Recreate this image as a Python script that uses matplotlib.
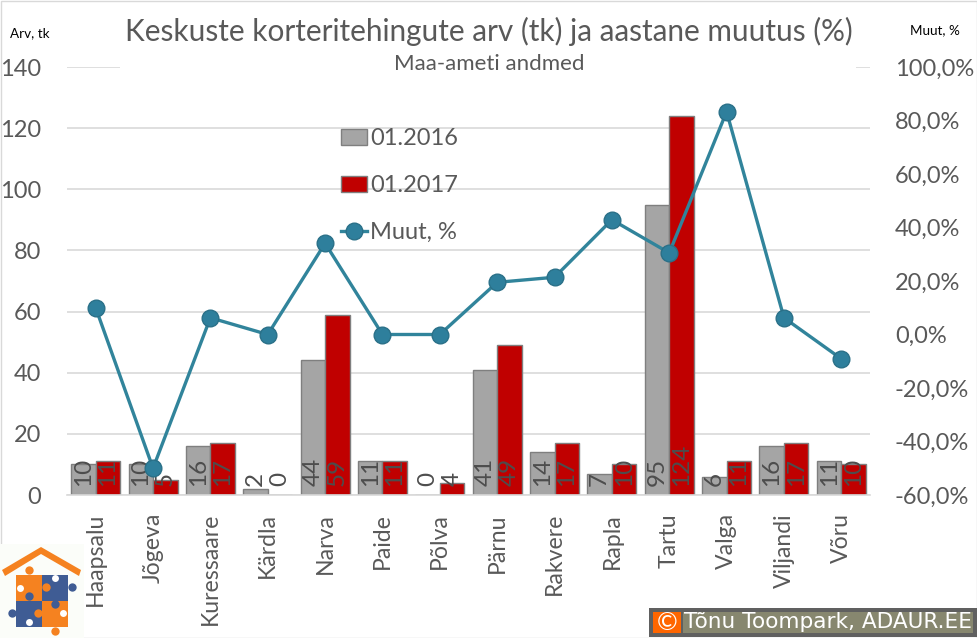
#!/usr/bin/env python3
"""Keskuste korteritehingute arv ja aastane muutus."""

import matplotlib
matplotlib.use("Agg")
import matplotlib.pyplot as plt
from matplotlib.patches import Polygon, Rectangle
import numpy as np

plt.rcParams["font.family"] = ["Lato", "DejaVu Sans"]

W, H = 977, 638

cities = ["Haapsalu", "Jõgeva", "Kuressaare", "Kärdla", "Narva", "Paide", "Põlva",
          "Pärnu", "Rakvere", "Rapla", "Tartu", "Valga", "Viljandi", "Võru"]
deals_2016 = [10, 10, 16, 2, 44, 11, 0, 41, 14, 7, 95, 6, 16, 11]
deals_2017 = [11, 5, 17, 0, 59, 11, 4, 49, 17, 10, 124, 11, 17, 10]
change_pct = [10.0, -50.0, 6.25, 0.0, 34.1, 0.0, 0.0, 19.5, 21.4, 42.9, 30.5, 83.3, 6.25, -9.1]
left_ticks = [0, 20, 40, 60, 80, 100, 120, 140]
right_ticks = [-60, -40, -20, 0, 20, 40, 60, 80, 100]

TEXT = "#595959"
GREY = "#a5a5a5"
RED = "#c00000"
TEAL = "#31849b"
EDGE = "#7f7f7f"


def fx(px):
    return px / W


def fy(px):
    return 1 - px / H


def box(x0, y0, x1, y1, color, zorder):
    fig.add_artist(Rectangle((fx(x0), fy(y1)), (x1 - x0) / W, (y1 - y0) / H, transform=fig.transFigure,
                             facecolor=color, edgecolor="none", zorder=zorder))


def dot(px, py, size, color):
    fig.add_artist(plt.Line2D([fx(px)], [fy(py)], marker="o", markersize=size, color=color,
                              markeredgewidth=0, zorder=9, transform=fig.transFigure))


fig = plt.figure(figsize=(W / 100, H / 100), dpi=100, facecolor="white")
ax = fig.add_axes([fx(67), fy(495), (870 - 67) / W, (495 - 67) / H])
x = np.arange(len(cities))
w = 0.427

ax.set_axisbelow(True)
ax.grid(True, axis="y", color="#d9d9d9", linewidth=1.2)
bars1 = ax.bar(x - w / 2, deals_2016, w, color=GREY, edgecolor=EDGE, linewidth=1, label="01.2016")
bars2 = ax.bar(x + w / 2, deals_2017, w, color=RED, edgecolor=EDGE, linewidth=1, label="01.2017")
ax.set_xlim(-0.5, len(cities) - 0.5)
ax.set_ylim(0, 140)
ax.set_yticks(left_ticks)
ax.set_xticks(x, cities, rotation=90)
ax.tick_params(axis="y", length=0, labelsize=17, labelcolor=TEXT, pad=18.5)
ax.tick_params(axis="x", length=0, labelsize=16.6, labelcolor=TEXT, pad=13)
for side in ["top", "left", "right"]:
    ax.spines[side].set_visible(False)
ax.spines["bottom"].set_color("#d9d9d9")
ax.spines["bottom"].set_linewidth(1.2)

# value labels all start at the same height just above the axis
for bars in (bars1, bars2):
    for bar in bars:
        ax.text(bar.get_x() + bar.get_width() / 2, 2.8, str(int(bar.get_height())), rotation=90,
                ha="center", va="bottom", fontsize=17.5, color="#4d4d4d", zorder=4)

ax2 = ax.twinx()
line, = ax2.plot(x, change_pct, "-o", color=TEAL, linewidth=2.4, markersize=12,
                 markerfacecolor="#2e7f9c", markeredgecolor="#2a7088", markeredgewidth=1,
                 label="Muut, %", zorder=5)
ax2.set_ylim(-60, 100)
ax2.set_yticks(right_ticks, [f"{t},0%" for t in right_ticks])
ax2.tick_params(axis="y", length=0, labelsize=17, labelcolor=TEXT, pad=18)
for side in ["top", "left", "right", "bottom"]:
    ax2.spines[side].set_visible(False)

# legend entries are stacked far apart, like a tall Excel legend
ax2.legend(handles=[bars1, bars2, line], loc="upper left", bbox_transform=fig.transFigure,
           bbox_to_anchor=(fx(341), fy(128)), frameon=False, fontsize=17, labelcolor=TEXT,
           labelspacing=1.1, handlelength=1.08, handleheight=0.65, handletextpad=0.15,
           borderpad=0, borderaxespad=0)

# subtitle block hides the top gridline behind the heading
box(120, 55, 856, 76, "white", 2)
fig.text(fx(488.5), fy(31), "Keskuste korteritehingute arv (tk) ja aastane muutus (%)", ha="center", va="center",
         fontsize=21.4, color=TEXT, zorder=6)
fig.text(fx(489), fy(64), "Maa-ameti andmed", ha="center", va="center", fontsize=16, color=TEXT, zorder=6)
fig.text(fx(29.5), fy(33), "Arv, tk", ha="center", va="center", fontsize=9.7, color="black")
fig.text(fx(935), fy(30), "Muut, %", ha="center", va="center", fontsize=9.7, color="black")

# chart border
fig.add_artist(Rectangle((fx(0.5), fy(637.5)), 976 / W, 637 / H, transform=fig.transFigure,
                         facecolor="none", edgecolor="#d9d9d9", linewidth=1))

# copyright box
box(649, 608, 977, 637, "#606060", 7)
box(653, 612, 681, 633, "#ff6600", 8)
box(683, 612, 973, 633, "#87876f", 8)
fig.text(fx(667), fy(622), "©", ha="center", va="center", fontsize=18, color="white", zorder=9)
fig.text(fx(828), fy(622), "Tõnu Toompark, ADAUR.EE", ha="center", va="center", fontsize=15.6,
         color="white", family=["DejaVu Sans"], zorder=9)

# logo: house with puzzle pieces
ORANGE = "#f58220"
BLUE = "#3f5c94"
box(0, 544, 84, 638, "#fbfdf9", 7)
fig.add_artist(Polygon([(fx(2), fy(570)), (fx(41), fy(547)), (fx(81), fy(570)), (fx(79), fy(576)),
                        (fx(41), fy(554)), (fx(5), fy(576))], transform=fig.transFigure,
                       facecolor=ORANGE, edgecolor="none", zorder=8))
for px, py, col in [(16, 575, ORANGE), (42, 575, BLUE), (16, 601, BLUE), (42, 601, ORANGE)]:
    box(px, py, px + 26, py + 26, col, 8)
for px, py, col in [(29, 570, ORANGE), (72, 587, BLUE), (12, 613, BLUE), (55, 631, ORANGE),
                    (46, 587, ORANGE), (29, 596, BLUE), (55, 604, BLUE), (38, 613, ORANGE)]:
    dot(px, py, 6, col)
for px, py in [(55, 578), (20, 588), (29, 622), (63, 613)]:
    dot(px, py, 5, "white")

fig.savefig("out.png", dpi=100)
plt.close(fig)
